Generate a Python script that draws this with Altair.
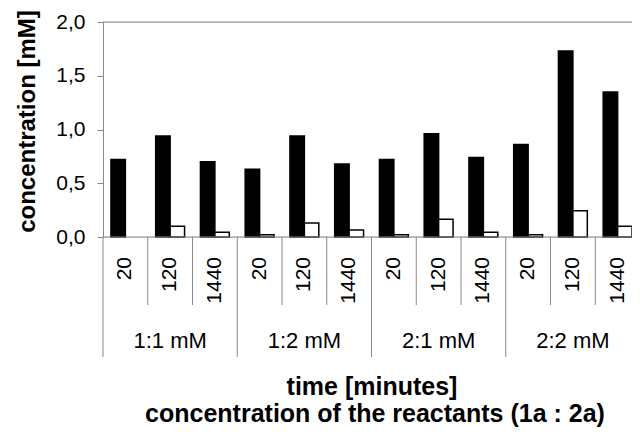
import altair as alt
import pandas as pd

groups = ["1:1 mM", "1:2 mM", "2:1 mM", "2:2 mM"]
times = ["20", "120", "1440"]
black_vals = [0.72, 0.94, 0.70, 0.63, 0.94, 0.68, 0.72, 0.96, 0.74, 0.86, 1.73, 1.35]
white_vals = [0.0, 0.10, 0.045, 0.02, 0.13, 0.065, 0.02, 0.165, 0.045, 0.02, 0.245, 0.10]
y_ticks = [0.0, 0.5, 1.0, 1.5, 2.0]

FONT = "Liberation Sans"
GRAY = "#888888"

keys = [f"{g}|{t}" for g in groups for t in times]

rows = []
for i, k in enumerate(keys):
    rows.append({"key": k, "series": "A", "value": black_vals[i]})
    rows.append({"key": k, "series": "B", "value": white_vals[i]})
bars_df = pd.DataFrame(rows)

cat_df = pd.DataFrame({
    "key": keys,
    "time": [t for g in groups for t in times],
    "group": [g for g in groups for t in times],
})
group_df = pd.DataFrame({"key": [f"{g}|{times[1]}" for g in groups], "group": groups})
group_sep_df = pd.DataFrame({"key": [f"{g}|{times[0]}" for g in groups]})
time_sep_df = pd.DataFrame({"key": [f"{g}|{t}" for g in groups for t in times[1:]]})

xscale = alt.Scale(domain=keys, range=[0, 537], paddingInner=0, paddingOuter=0)
yscale = alt.Scale(domain=[0, 2], nice=False)

def X(**kw):
    return alt.X("key:N", scale=xscale, sort=keys, axis=None, **kw)

bars = alt.Chart(bars_df).transform_filter("datum.value > 0").mark_bar(
    stroke="black", strokeWidth=1.5
).encode(
    x=X(),
    xOffset=alt.XOffset("series:N", scale=alt.Scale(domain=["A", "B"], paddingInner=0, paddingOuter=0.55)),
    y=alt.Y("value:Q", scale=yscale, axis=alt.Axis(
        values=y_ticks,
        labelExpr="replace(format(datum.value, '.1f'), '.', ',')",
        grid=False, domainColor=GRAY, tickColor=GRAY, tickSize=6,
        labelPadding=12, labelFontSize=21, labelFont=FONT, labelColor="black",
        title="concentration [mM]", titleFontSize=24, titleFont=FONT,
        titleFontWeight="bold", titleColor="black", titleAngle=270,
        titleX=-76, titleY=99, titleAlign="center", titleBaseline="middle",
    )),
    fill=alt.Fill("series:N", scale=alt.Scale(domain=["A", "B"], range=["black", "white"]), legend=None),
)

top_line = alt.Chart(pd.DataFrame({"v": [2.0]})).mark_rule(color=GRAY, strokeWidth=1).encode(
    y=alt.Y("v:Q", scale=yscale), x=alt.value(0), x2=alt.value(540)
)
base_line = alt.Chart(pd.DataFrame({"v": [0.0]})).mark_rule(color=GRAY, strokeWidth=1).encode(
    y=alt.Y("v:Q", scale=yscale), x=alt.value(0), x2=alt.value(540)
)

time_seps = alt.Chart(time_sep_df).mark_rule(color=GRAY, strokeWidth=1).encode(
    x=X(bandPosition=0), y=alt.value(215), y2=alt.value(283)
)
group_seps = alt.Chart(group_sep_df).mark_rule(color=GRAY, strokeWidth=1).encode(
    x=X(bandPosition=0), y=alt.value(215), y2=alt.value(335)
)

time_labels = alt.Chart(cat_df).mark_text(
    angle=270, align="right", baseline="middle", fontSize=21, font=FONT, color="black"
).encode(x=X(), y=alt.value(235), text="time:N")

group_labels = alt.Chart(group_df).mark_text(
    align="center", baseline="middle", fontSize=22, font=FONT, color="black"
).encode(x=X(), y=alt.value(319), text="group:N")

title1 = alt.Chart(pd.DataFrame({"t": ["time [minutes]"]})).mark_text(
    align="center", baseline="middle", fontSize=25, fontWeight="bold", font=FONT, color="black"
).encode(x=alt.value(269), y=alt.value(365), text="t:N")
title2 = alt.Chart(pd.DataFrame({"t": ["concentration of the reactants (1a : 2a)"]})).mark_text(
    align="center", baseline="middle", fontSize=25, fontWeight="bold", font=FONT, color="black"
).encode(x=alt.value(272), y=alt.value(392), text="t:N")

chart = alt.layer(
    bars, top_line, base_line, time_seps, group_seps, time_labels, group_labels, title1, title2
).properties(
    width=529, height=215,
    autosize=alt.AutoSizeParams(type="none"),
    padding={"left": 95, "top": 14, "right": 0, "bottom": 191},
).configure_view(stroke=None).configure(font=FONT, background="white")

chart.save("out.html", embed_options={"renderer": "svg", "actions": False})
